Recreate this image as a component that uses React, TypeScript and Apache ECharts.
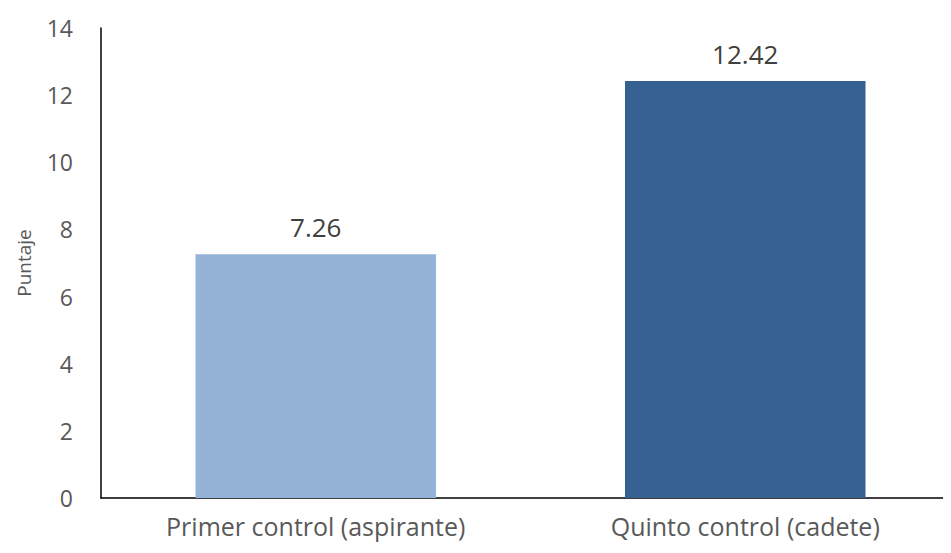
import React, { useEffect, useRef } from "react";
import * as echarts from "echarts";

const categories = ["Primer control (aspirante)", "Quinto control (cadete)"];
const scores = [7.26, 12.42];
const barColors = ["#95B3D7", "#366092"];

const FONT = "'Open Sans', 'Noto Sans', sans-serif";

export default function App() {
  const ref = useRef<HTMLDivElement>(null);

  useEffect(() => {
    if (!ref.current) return;
    const chart = echarts.init(ref.current, undefined, { renderer: "svg" });
    chart.setOption({
      animation: false,
      backgroundColor: "#ffffff",
      grid: {
        left: 93,
        right: -17,
        top: 20,
        bottom: 47,
        outerBoundsMode: "none",
      },
      xAxis: {
        type: "category",
        data: categories,
        axisLine: { lineStyle: { color: "#000000", width: 1.5 } },
        axisTick: { show: false },
        axisLabel: {
          color: "#595959",
          fontSize: 25,
          fontFamily: FONT,
          margin: 15,
        },
      },
      yAxis: {
        type: "value",
        min: 0,
        max: 14,
        interval: 2,
        name: "Puntaje",
        nameLocation: "middle",
        nameGap: 68,
        nameTextStyle: { color: "#595959", fontSize: 19, fontFamily: FONT },
        axisLine: { show: true, lineStyle: { color: "#000000", width: 1.5 } },
        axisTick: { show: false },
        splitLine: { show: false },
        axisLabel: {
          color: "#595959",
          fontSize: 23,
          fontFamily: FONT,
          margin: 28,
        },
      },
      series: [
        {
          type: "bar",
          barWidth: "56%",
          data: scores.map((v, i) => ({
            value: v,
            itemStyle: { color: barColors[i] },
          })),
          label: {
            show: true,
            position: "top",
            distance: 14,
            color: "#404040",
            fontSize: 26,
            fontFamily: FONT,
            formatter: (p: any) => p.value.toFixed(2),
          },
        },
      ],
    });
    return () => chart.dispose();
  }, []);

  return <div ref={ref} style={{ width: 935, height: 537 }} />;
}
